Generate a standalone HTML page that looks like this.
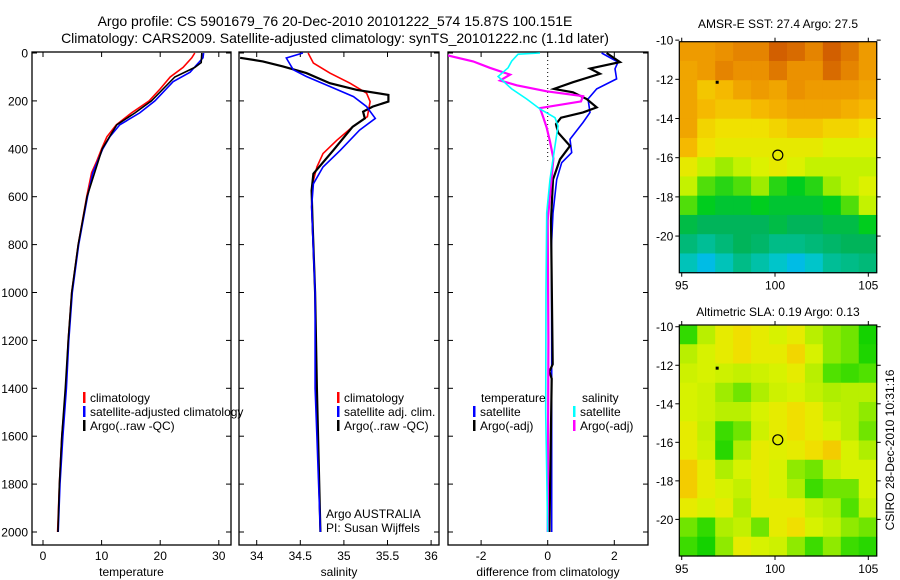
<!DOCTYPE html>
<html><head><meta charset="utf-8"><style>
body{margin:0;background:#fff;}
svg{display:block;font-family:"Liberation Sans",sans-serif;}
</style></head><body>
<svg id="fig" width="900" height="580" viewBox="0 0 900 580">
<text x="335" y="26" font-size="14" text-anchor="middle">Argo profile: CS 5901679_76 20-Dec-2010 20101222_574 15.87S 100.151E</text>
<text x="335" y="43" font-size="14" text-anchor="middle">Climatology: CARS2009. Satellite-adjusted climatology: synTS_20101222.nc (1.1d later)</text>
<text x="778" y="28" font-size="12" text-anchor="middle">AMSR-E SST: 27.4 Argo: 27.5</text>
<text x="778" y="316" font-size="12" text-anchor="middle">Altimetric SLA: 0.19 Argo: 0.13</text>
<text x="0" y="0" font-size="12" text-anchor="middle" transform="translate(894,450) rotate(-90)">CSIRO 28-Dec-2010 10:31:16</text>
<g id="plots"></g>
</svg>
<script>
// ---------- data ----------
const depthTicks=[0,200,400,600,800,1000,1200,1400,1600,1800,2000];
const tempTicks=[0,10,20,30];
const salTicks=[34,34.5,35,35.5,36];
const diffTicks=[-2,0,2];
const lonTicks=[95,100,105];
const latTicks=[-10,-12,-14,-16,-18,-20];

const tClimD=[0,20,60,100,150,200,250,300,350,400,450,500,600,800,1000,1200,1400,1600,1800,2000];
const tClimV=[25.9,25.4,23.9,21.7,20,18.1,15.1,12.5,10.9,10,9.2,8.3,7.45,6.0,4.9,4.3,3.9,3.2,2.8,2.5];
const tSatD=[0,20,50,80,120,200,250,300,350,400,500,600,800,1000,1200,1400,1600,1800,2000];
const tSatV=[27.4,27.3,26.2,25.1,22.2,19.1,16.5,13.1,11.4,10.2,8.5,7.6,6.1,5.0,4.4,4.0,3.4,2.9,2.6];
const tArgoD=[0,40,60,100,200,250,300,400,600,800,1000,1200,1400,1600,1800,2000];
const tArgoV=[27.1,27.0,25.9,22.5,18.5,15.7,12.6,10.1,7.5,6.0,4.9,4.3,3.8,3.2,2.8,2.55];

const sClimD=[0,42,84,126,168,203,266,308,364,420,476,546,643,1000,1400,2000];
const sClimV=[34.59,34.65,34.84,35.07,35.26,35.30,35.27,35.10,34.92,34.76,34.69,34.64,34.63,34.67,34.68,34.73];
const sSatD=[0,21,70,98,140,182,224,273,322,406,476,546,643,1000,1400,1600,1800,2000];
const sSatV=[34.53,34.34,34.42,34.57,34.84,35.11,35.26,35.36,35.18,34.96,34.76,34.65,34.63,34.67,34.67,34.69,34.71,34.73];
const sArgoD=[20,35,56,84,126,154,175,203,224,245,273,308,406,504,574,700,1000,1400,2000];
const sArgoV=[33.81,34.07,34.30,34.57,34.84,35.15,35.51,35.51,35.33,35.22,35.24,35.10,34.88,34.65,34.63,34.64,34.67,34.69,34.73];

const dTSatD=[0,38,66,108,150,192,248,290,360,416,458,528,668,808,1200,1600,2000];
const dTSatV=[1.62,2.11,2.02,2.07,1.47,1.21,1.27,1.06,0.67,0.72,0.42,0.27,0.16,0.11,0.12,0.12,0.12];
const dTArgoD=[0,38,65,87,122,150,164,192,227,248,270,297,332,388,444,528,700,1300,1330,1360,2000];
const dTArgoV=[1.77,2.17,1.27,1.57,0.76,0.19,0.76,1.17,1.47,1.06,0.40,0.25,0.31,0.67,0.37,0.16,0.1,0.15,0.05,0.12,0.05];
const dSSatD=[0,5,34,62,98,150,192,234,270,305,388,528,668,1000,1500,2000];
const dSSatV=[-0.23,-0.89,-1.08,-1.19,-1.49,-1.08,-0.63,-0.23,0.22,0.31,0.22,0.07,-0.03,-0.05,-0.06,0.0];
const dSArgoD=[10,35,62,90,115,135,160,180,202,230,270,312,370,440,700,1200,2000];
const dSArgoV=[-3.0,-2.24,-1.74,-1.13,-1.43,-0.93,-0.03,1.06,1.0,-0.23,-0.13,-0.03,0.07,0.17,0.0,0.02,0.0];

const sstGrid=[
[27.9,27.9,28.0,28.1,28.1,28.4,28.3,28.1,28.4,28.2,27.9],
[27.8,27.9,28.1,28.0,28.0,28.2,28.0,28.0,28.3,28.1,27.9],
[27.8,27.5,27.6,27.8,27.9,27.8,28.0,27.9,27.9,27.9,27.8],
[27.8,27.6,27.5,27.5,27.6,27.7,27.8,27.8,27.8,27.7,27.6],
[27.8,27.4,27.3,27.3,27.3,27.4,27.5,27.5,27.4,27.4,27.3],
[27.6,27.3,27.2,27.2,27.2,27.2,27.2,27.2,27.1,27.1,27.1],
[27.2,27.0,26.9,27.0,27.1,27.2,27.1,27.0,27.0,27.0,27.0],
[27.0,26.7,26.6,26.7,26.9,26.6,26.5,26.6,26.9,27.0,27.1],
[26.7,26.5,26.4,26.4,26.5,26.4,26.4,26.4,26.5,26.7,27.0],
[26.3,26.2,26.2,26.2,26.2,26.3,26.2,26.2,26.3,26.3,26.5],
[26.0,25.8,26.0,26.2,26.1,25.9,25.9,26.0,26.1,26.2,26.2],
[25.6,25.3,25.6,25.9,25.7,25.5,25.3,25.5,25.8,25.9,26.0]];
const slaGrid=[
[0.05,0.15,0.2,0.22,0.2,0.18,0.2,0.15,0.12,0.1,0.02],
[0.15,0.18,0.2,0.22,0.2,0.2,0.23,0.18,0.12,0.1,0.03],
[0.17,0.18,0.17,0.16,0.17,0.18,0.2,0.15,0.08,0.06,0.08],
[0.18,0.17,0.13,0.1,0.14,0.17,0.18,0.16,0.14,0.15,0.15],
[0.18,0.17,0.15,0.15,0.18,0.2,0.22,0.2,0.16,0.15,0.12],
[0.2,0.16,0.06,0.1,0.17,0.2,0.22,0.2,0.18,0.15,0.1],
[0.2,0.17,0.04,0.14,0.2,0.19,0.2,0.22,0.24,0.18,0.14],
[0.24,0.2,0.14,0.18,0.2,0.18,0.12,0.1,0.16,0.18,0.18],
[0.24,0.2,0.18,0.16,0.2,0.18,0.14,0.06,0.1,0.1,0.18],
[0.2,0.18,0.2,0.14,0.2,0.2,0.2,0.16,0.14,0.08,0.16],
[0.1,0.05,0.14,0.16,0.1,0.2,0.22,0.18,0.16,0.12,0.1],
[0.06,0.02,0.12,0.2,0.18,0.17,0.12,0.06,0.12,0.06,0.04]];
const argoPos=[100.15,-15.87];
const floatPos=[96.9,-12.15];

// ---------- helpers ----------
const NS='http://www.w3.org/2000/svg';
const root=document.getElementById('plots');
function mk(tag,attrs,parent){const e=document.createElementNS(NS,tag);for(const k in attrs)e.setAttribute(k,attrs[k]);(parent||root).appendChild(e);return e;}
const yD=d=>53+d*0.2395;

function panel(name,x0,x1,xs,ticks,label,yLabels){
  const g=mk('g',{});
  
  
  const r=mk('rect',{x:x0,y:52,width:x1-x0,height:493,fill:'none',stroke:'#000','stroke-width':1.3},g);
  
  
  depthTicks.forEach(d=>{const y=yD(d);
    mk('line',{x1:x0,x2:x0+5,y1:y,y2:y,stroke:'#000'},g);
    mk('line',{x1:x1-5,x2:x1,y1:y,y2:y,stroke:'#000'},g);
    if(yLabels){const t=mk('text',{x:x0-4,y:y+4.5,'font-size':12,'text-anchor':'end'},g);t.textContent=d;
      
      }
  });
  ticks.forEach(v=>{const x=xs(v);
    mk('line',{x1:x,x2:x,y1:545,y2:540,stroke:'#000'},g);
    mk('line',{x1:x,x2:x,y1:52,y2:57,stroke:'#000'},g);
    const t=mk('text',{x:x,y:560,'font-size':12,'text-anchor':'middle'},g);t.textContent=v;
    
    
  });
  const l=mk('text',{x:(x0+x1)/2,y:576,'font-size':12,'text-anchor':'middle'},g);l.textContent=label;
  
  
  return g;
}
function clipRect(id,x0,x1){const cp=mk('clipPath',{id:id});mk('rect',{x:x0,y:52,width:x1-x0,height:493},cp);}
function line(name,ds,vs,xs,color,clip,w){
  const pts=ds.map((d,i)=>xs(vs[i]).toFixed(1)+','+yD(d).toFixed(1)).join(' ');
  const p=mk('polyline',{points:pts,fill:'none',stroke:color,'stroke-width':w||1.6,'clip-path':'url(#'+clip+')'});
  
  
}
function legend(x,y,color,text,name){
  const b=mk('rect',{x:x,y:y-10,width:2.5,height:11,fill:color});
  
  
  const t=mk('text',{x:x+7,y:y,'font-size':12});t.textContent=text;
  
  
}
function txt(x,y,s,name){const t=mk('text',{x:x,y:y,'font-size':12});t.textContent=s;
  
  }

// ---------- panel 1: temperature ----------
const xT=v=>43+v*5.86;
panel('temperature-panel',32,231,xT,tempTicks,'temperature',true);
clipRect('c1',32,231);
line('temp-climatology-line',tClimD,tClimV,xT,'#f00','c1');
line('temp-satellite-line',tSatD,tSatV,xT,'#00f','c1');
line('temp-argo-line',tArgoD,tArgoV,xT,'#000','c1');
legend(83,402,'#f00','climatology','legend-climatology');
legend(83,416,'#00f','satellite-adjusted climatology','legend-satellite-adjusted');
legend(83,430,'#000','Argo(..raw -QC)','legend-argo-raw');

// ---------- panel 2: salinity ----------
const xS=v=>256.7+(v-34)*87.2;
panel('salinity-panel',239,439,xS,salTicks,'salinity',false);
clipRect('c2',239,439);
line('sal-climatology-line',sClimD,sClimV,xS,'#f00','c2');
line('sal-argo-line',sArgoD,sArgoV,xS,'#000','c2',2.2);
line('sal-satellite-line',sSatD,sSatV,xS,'#00f','c2');
legend(337,402,'#f00','climatology','legend-sal-climatology');
legend(337,416,'#00f','satellite adj. clim.','legend-sal-satellite');
legend(337,430,'#000','Argo(..raw -QC)','legend-sal-argo');
txt(326,518,'Argo AUSTRALIA','argo-country-note');
txt(326,532,'PI: Susan Wijffels','pi-note');

// ---------- panel 3: differences ----------
const xDf=v=>547.7+v*33.3;
panel('difference-panel',448,648,xDf,diffTicks,'difference from climatology',false);
clipRect('c3',448,648);
const zl=mk('line',{x1:xDf(0),x2:xDf(0),y1:52,y2:yD(450),stroke:'#000','stroke-dasharray':'1,3'});


line('diff-temp-satellite-line',dTSatD,dTSatV,xDf,'#00f','c3');
line('diff-temp-argo-line',dTArgoD,dTArgoV,xDf,'#000','c3',2.2);
line('diff-sal-argo-line',dSArgoD,dSArgoV,xDf,'#f0f','c3',2.2);
line('diff-sal-satellite-line',dSSatD,dSSatV,xDf,'#0ff','c3');
txt(481,402,'temperature','legend-temperature-header');
legend(473,416,'#00f','satellite','legend-diff-temp-satellite');
legend(473,430,'#000','Argo(-adj)','legend-diff-temp-argo');
txt(582,402,'salinity','legend-salinity-header');
legend(573,416,'#0ff','satellite','legend-diff-sal-satellite');
legend(573,430,'#f0f','Argo(-adj)','legend-diff-sal-argo');

// ---------- maps ----------
function interpColor(stops,v){
  if(v<=stops[0][0])return 'rgb('+stops[0][1].join(',')+')';
  for(let i=1;i<stops.length;i++){if(v<=stops[i][0]){const a=stops[i-1],b=stops[i],f=(v-a[0])/(b[0]-a[0]);
    return 'rgb('+[0,1,2].map(k=>Math.round(a[1][k]+(b[1][k]-a[1][k])*f)).join(',')+')';}}
  const l=stops[stops.length-1][1];return 'rgb('+l.join(',')+')';
}
const sstStops=[[25.0,[0,150,255]],[25.4,[0,200,220]],[25.8,[0,190,150]],[26.2,[0,180,90]],[26.5,[0,205,30]],[26.8,[120,230,0]],[27.05,[215,245,0]],[27.3,[240,225,0]],[27.6,[245,185,0]],[28.0,[235,145,0]],[28.4,[210,95,0]]];
const slaStops=[[0.0,[0,205,0]],[0.08,[80,225,0]],[0.14,[175,238,0]],[0.18,[215,242,0]],[0.21,[238,232,0]],[0.25,[245,195,0]]];
function map(name,grid,stops,y0,y1,latTop,latBot){
  const x0=679.3,x1=876.7,lonL=94.87,lonR=105.45;
  const g=mk('g',{});
  
  
  const X=lon=>x0+(lon-lonL)/(lonR-lonL)*(x1-x0);
  const Y=lat=>y0+(latTop-lat)/(latTop-latBot)*(y1-y0);
  const nr=grid.length,nc=grid[0].length,cw=(x1-x0)/nc,ch=(y1-y0)/nr;
  grid.forEach((row,i)=>row.forEach((v,j)=>{
    const c=mk('rect',{x:x0+j*cw,y:y0+i*ch,width:cw+0.6,height:ch+0.6,fill:interpColor(stops,v)},g);
    
    
  }));
  mk('rect',{x:x0,y:y0,width:x1-x0,height:y1-y0,fill:'none',stroke:'#000','stroke-width':1.2},g);
  latTicks.forEach(l=>{const y=Y(l);
    mk('line',{x1:x0-4,x2:x0,y1:y,y2:y,stroke:'#000'},g);
    mk('line',{x1:x1,x2:x1+4,y1:y,y2:y,stroke:'#000'},g);
    const t=mk('text',{x:x0-6,y:y+4.5,'font-size':12,'text-anchor':'end'},g);t.textContent=l;
    
    });
  lonTicks.forEach(l=>{const x=X(l);
    mk('line',{x1:x,x2:x,y1:y1,y2:y1+4,stroke:'#000'},g);
    mk('line',{x1:x,x2:x,y1:y0-4,y2:y0,stroke:'#000'},g);
    const t=mk('text',{x:x,y:y1+17,'font-size':12,'text-anchor':'middle'},g);t.textContent=l;
    
    });
  const c=mk('circle',{cx:X(argoPos[0]),cy:Y(argoPos[1]),r:5,fill:'none',stroke:'#000','stroke-width':1.2},g);
  
  
  const d=mk('rect',{x:X(floatPos[0])-1.5,y:Y(floatPos[1])-1.5,width:3,height:3,fill:'#000'},g);
  
  
}
map('sst-map',sstGrid,sstStops,41.7,272.7,-10.08,-21.87);
map('sla-map',slaGrid,slaStops,325,556,-9.91,-21.9);
</script>
</body></html>
